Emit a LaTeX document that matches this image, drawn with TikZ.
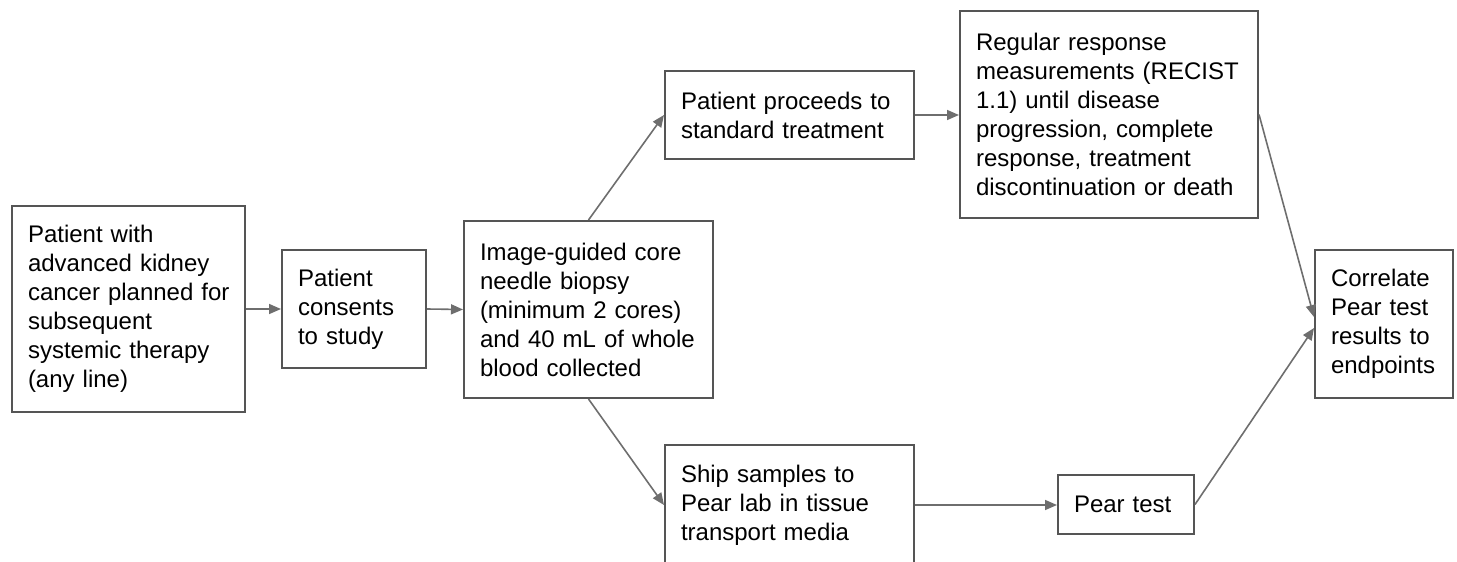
\documentclass[tikz,border=0pt]{standalone}
\usepackage{fontspec}
\setmainfont{Liberation Sans}
\usetikzlibrary{arrows.meta,calc}
\definecolor{boxcol}{HTML}{555555}
\definecolor{arrcol}{HTML}{6E6E6E}
\tikzset{
  flowbox/.style={draw=boxcol, line width=2pt, fill=white, align=left,
    inner xsep=16pt, inner ysep=0pt, anchor=north west,
    font=\fontsize{24}{29}\selectfont, text=black},
  conn/.style={draw=arrcol, line width=1.6pt, -{Triangle[length=12pt,width=10pt]}}
}
\hfuzz=20pt
\begin{document}
\begin{tikzpicture}[x=1pt,y=-1pt]
\useasboundingbox (0,0) rectangle (1457,562);
\node[flowbox, text width=201pt, minimum height=206pt] (A) at (11,205)
  {Patient with\\advanced kidney\\\mbox{cancer planned for}\\subsequent\\systemic therapy\\(any line)};
\node[flowbox, text width=112pt, minimum height=118pt] (B) at (281,249)
  {Patient\\consents\\to study};
\node[flowbox, text width=217pt, minimum height=177pt] (C) at (463,220)
  {Image-guided core\\needle biopsy\\(minimum 2 cores)\\\mbox{and 40 mL of whole}\\blood collected};
\node[flowbox, text width=217pt, minimum height=88pt] (D) at (664,70)
  {\mbox{Patient proceeds to}\\standard treatment};
\node[flowbox, text width=266pt, minimum height=207pt] (E) at (959,10)
  {Regular response\\\mbox{measurements (RECIST}\\1.1) until disease\\progression, complete\\response, treatment\\\mbox{discontinuation or death}};
\node[flowbox, text width=217pt, minimum height=120pt] (F) at (664,444)
  {Ship samples to\\Pear lab in tissue\\transport media};
\node[flowbox, text width=104pt, minimum height=59pt] (P) at (1057,474)
  {Pear test};
\node[flowbox, text width=106pt, minimum height=148pt] (G) at (1314,249)
  {Correlate\\Pear test\\results to\\\mbox{endpoints}};
\draw[conn] (A.east) -- (B.west);
\draw[conn] (B.east) -- (C.west);
\draw[conn] (C.north) -- (D.west);
\draw[conn] (D.east) -- (D.east -| E.west);
\draw[conn] (C.south) -- (F.west);
\draw[conn] (F.east) -- (F.east -| P.west);
\draw[conn] (E.east) -- ($(G.west)+(0,-7)$);
\draw[conn] (P.east) -- ($(G.west)+(0,4)$);
\end{tikzpicture}
\end{document}
